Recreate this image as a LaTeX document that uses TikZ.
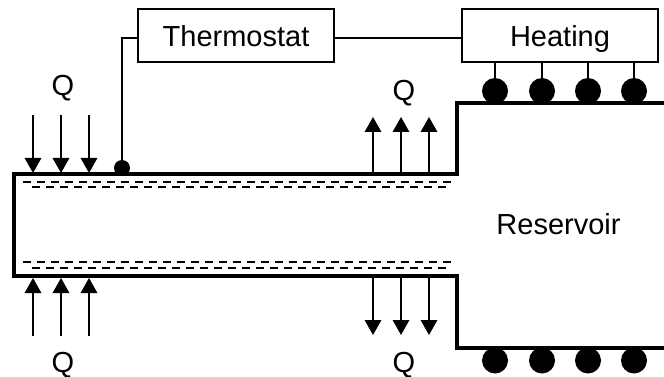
\documentclass[tikz,border=0pt]{standalone}
\usepackage{fontspec}
\setmainfont{Liberation Sans}
\usetikzlibrary{arrows.meta}
\begin{document}
\begin{tikzpicture}[x=1pt,y=-1pt]
    \tikzstyle{box}=[draw=black,line width=2pt,minimum width=196pt,minimum height=53pt,inner sep=0pt,text height=21pt,text depth=0pt,font=\fontsize{29}{32}\selectfont]
    \tikzstyle{label}=[inner sep=0pt,text height=21pt,text depth=0pt,font=\fontsize{29}{32}\selectfont]
    \tikzstyle{wire}=[draw=black,line width=1.7pt]
    \tikzstyle{wall}=[draw=black,line width=3.6pt]
    \tikzstyle{film}=[draw=black,line width=1.5pt,dash pattern=on 8pt off 6pt]
    \tikzstyle{flow}=[draw=black,line width=1.7pt,-{Triangle[width=16.5pt,length=15pt]}]
    \tikzstyle{heater}=[circle,fill=black,minimum size=26pt,inner sep=0pt]
    \tikzstyle{sensor}=[circle,fill=black,minimum size=16pt,inner sep=0pt]

    \useasboundingbox (0,0) rectangle (664,377);

    % Control boxes
    \node[box] (thermostat) at (236,35.7) {Thermostat};
    \node[box] (heating) at (560,35.7) {Heating};

    % Sensor and its wire
    \node[sensor] (probe) at (122,168) {};
    \coordinate (thermostat-in) at (138,37.7);
    \coordinate (thermostat-out) at (334,37.7);
    \coordinate (heating-in) at (462,37.7);
    \draw[wire] (thermostat-in) -| (probe);
    \draw[wire] (thermostat-out) -- (heating-in);

    % Heater elements, top and bottom of the reservoir
    \foreach \name / \x in {1/495,2/542,3/588,4/634} {
        \node[heater] (T-\name) at (\x,91) {};
        \node[heater] (B-\name) at (\x,360.5) {};
        \coordinate (S-\name) at (\x,62);
        \draw[wire] (S-\name) -- (T-\name);
    }

    % Tube and reservoir outline
    \draw[wall] (664,103) -- (457,103) -- (457,174) -- (14,174) -- (14,276) -- (457,276) -- (457,348) -- (664,348);

    % Liquid film lines
    \draw[film] (22.5,182) -- (451,182);
    \draw[film] (32,187) -- (447,187);
    \draw[film] (22.5,262) -- (451,262);
    \draw[film] (32,268) -- (447,268);

    % Heat going in
    \foreach \name / \x in {1/33,2/61,3/89} {
        \coordinate (a-\name) at (\x,115);
        \coordinate (b-\name) at (\x,173);
        \coordinate (c-\name) at (\x,336);
        \coordinate (d-\name) at (\x,278);
        \draw[flow] (a-\name) -- (b-\name);
        \draw[flow] (c-\name) -- (d-\name);
    }

    % Heat going out
    \foreach \name / \x in {1/373,2/401,3/429} {
        \coordinate (e-\name) at (\x,174);
        \coordinate (f-\name) at (\x,117);
        \coordinate (g-\name) at (\x,277);
        \coordinate (h-\name) at (\x,335);
        \draw[flow] (e-\name) -- (f-\name);
        \draw[flow] (g-\name) -- (h-\name);
    }

    % Labels
    \node[label] (Q-1) at (63,85) {Q};
    \node[label] (Q-2) at (404,90) {Q};
    \node[label] (Q-3) at (63,362) {Q};
    \node[label] (Q-4) at (404,362) {Q};
    \node[label] (reservoir) at (558.5,224) {Reservoir};
\end{tikzpicture}
\end{document}
